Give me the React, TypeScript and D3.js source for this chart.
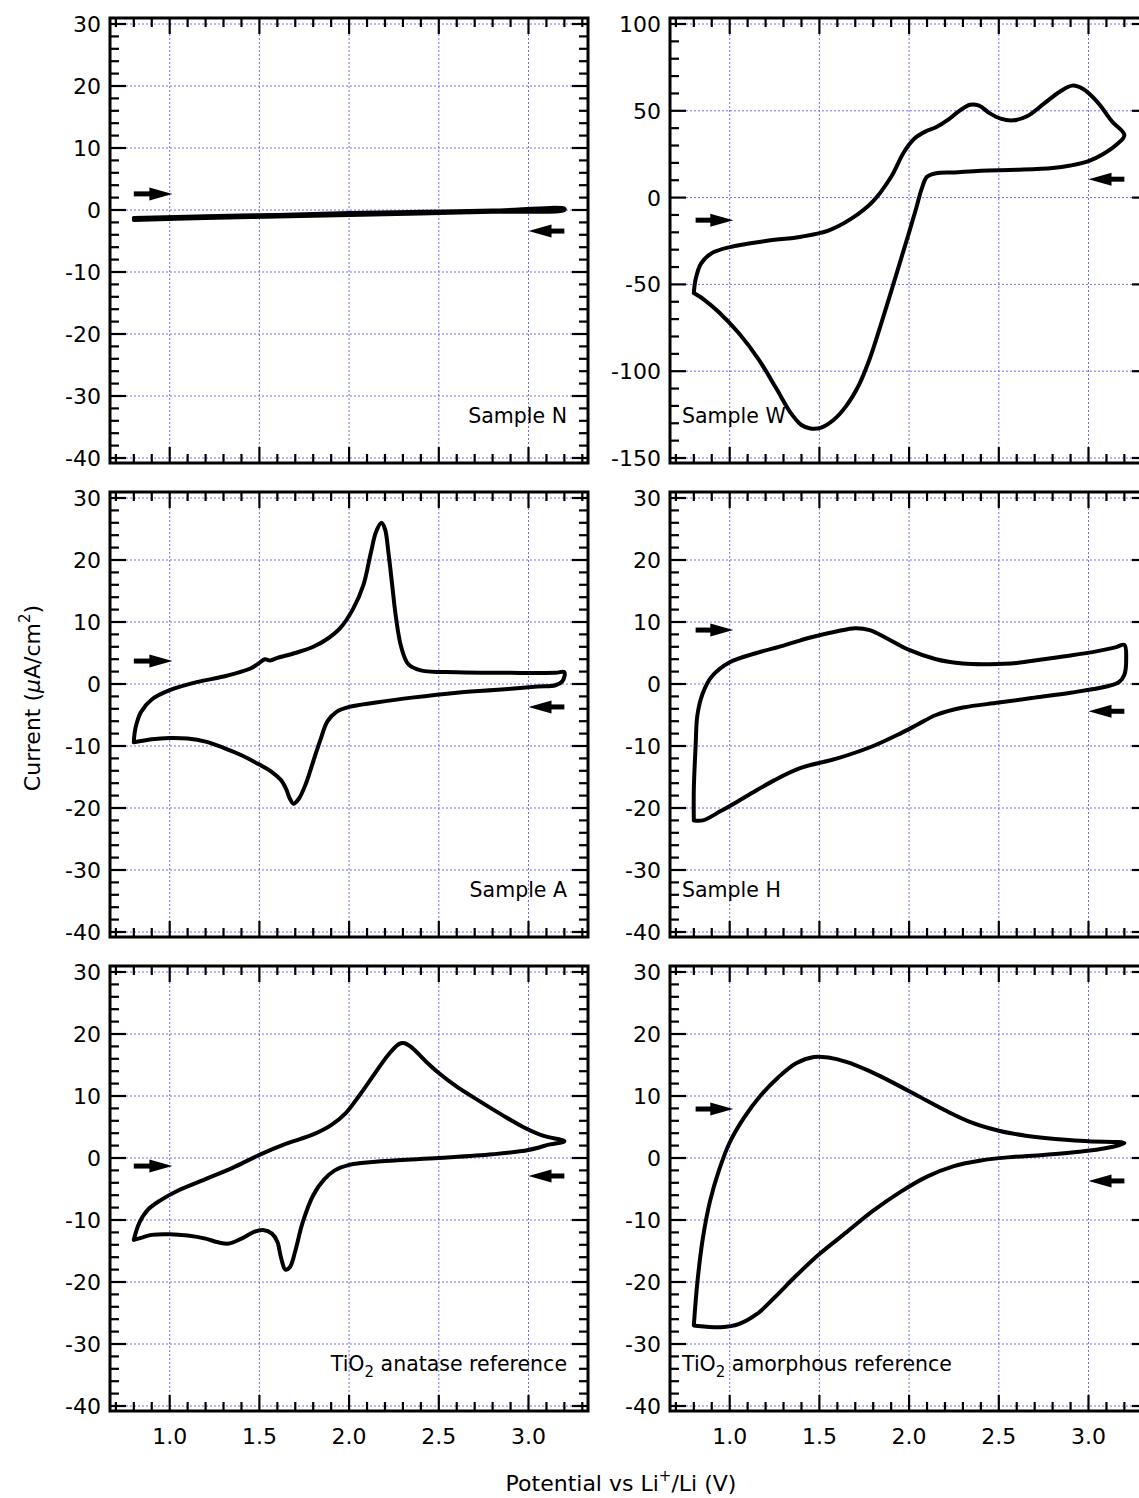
import React from "react";
import * as d3 from "d3";

// ---------- data ----------
const xMajorLabels = ["1.0", "1.5", "2.0", "2.5", "3.0"];
const yTicksSmall = [30, 20, 10, 0, -10, -20, -30, -40];
const yTicksW = [100, 50, 0, -50, -100, -150];

const sampleN: [number, number][] = [
  [0.8, -1.3], [1.2, -1.0], [1.6, -0.8], [2.0, -0.5], [2.4, -0.3], [2.8, -0.1], [3.2, 0.2],
  [3.2, 0.0], [2.8, -0.3], [2.4, -0.55], [2.0, -0.8], [1.6, -1.05], [1.2, -1.3], [0.8, -1.6],
];

const sampleW: [number, number][] = [
  [0.8, -55], [0.81, -47], [0.84, -38], [0.9, -32], [1.0, -28.5], [1.2, -25], [1.4, -22.5],
  [1.55, -19], [1.68, -12], [1.8, -2], [1.9, 12], [1.97, 26], [2.03, 34], [2.09, 38],
  [2.15, 40.5], [2.22, 45], [2.28, 50], [2.34, 53.5], [2.39, 53], [2.45, 48.5], [2.51, 45.5],
  [2.58, 44.5], [2.66, 47], [2.75, 54], [2.84, 61], [2.91, 64.5], [2.97, 62.5], [3.05, 55],
  [3.13, 44], [3.2, 36],
  [3.15, 30], [3.08, 25], [3.0, 21], [2.9, 18.5], [2.8, 17], [2.6, 16], [2.4, 15.5],
  [2.25, 14.5], [2.15, 14], [2.1, 12], [2.07, 5], [2.04, -6], [2.0, -20], [1.95, -37],
  [1.9, -54], [1.84, -74], [1.78, -93], [1.72, -108], [1.65, -120], [1.58, -128],
  [1.51, -132.5], [1.45, -133], [1.4, -131], [1.34, -124], [1.26, -110], [1.16, -93],
  [1.05, -78], [0.94, -66], [0.86, -59], [0.8, -55],
];

const sampleA: [number, number][] = [
  [0.8, -9.2], [0.81, -7], [0.84, -4.5], [0.9, -2.5], [1.0, -1], [1.15, 0.3], [1.3, 1.2],
  [1.45, 2.5], [1.5, 3.4], [1.53, 4], [1.56, 3.8], [1.6, 4.2], [1.7, 5], [1.8, 6],
  [1.88, 7.3], [1.95, 9], [2.02, 12], [2.08, 16], [2.12, 21], [2.15, 24.5], [2.18, 26],
  [2.2, 25], [2.22, 21], [2.24, 16], [2.26, 11], [2.29, 6], [2.33, 3.2], [2.4, 2.2],
  [2.6, 1.9], [2.9, 1.8], [3.15, 1.8], [3.2, 1.9],
  [3.19, 0.5], [3.15, -0.2], [3.05, -0.4], [2.85, -0.9], [2.6, -1.4], [2.35, -2.2],
  [2.15, -3], [2.0, -3.7], [1.93, -4.5], [1.88, -6], [1.84, -9], [1.8, -12.5], [1.76, -16],
  [1.72, -18.5], [1.69, -19.3], [1.67, -18.5], [1.65, -17], [1.62, -15.5], [1.57, -14.2],
  [1.5, -13], [1.4, -11.5], [1.3, -10.3], [1.2, -9.3], [1.1, -8.8], [1.0, -8.7],
  [0.9, -8.9], [0.8, -9.4],
];

const sampleH: [number, number][] = [
  [0.8, -22], [0.8, -17], [0.81, -10], [0.82, -5], [0.85, -1.5], [0.9, 1.2], [1.0, 3.5],
  [1.15, 5], [1.3, 6.2], [1.45, 7.5], [1.6, 8.5], [1.7, 9], [1.78, 8.7], [1.88, 7.3],
  [2.0, 5.5], [2.15, 4], [2.3, 3.3], [2.45, 3.2], [2.6, 3.4], [2.75, 4], [2.9, 4.6],
  [3.05, 5.3], [3.15, 5.9], [3.2, 6.3],
  [3.21, 4], [3.2, 1.5], [3.17, 0.3], [3.1, -0.4], [2.9, -1.4], [2.7, -2.2], [2.5, -3],
  [2.3, -3.8], [2.15, -5], [2.05, -6.5], [1.95, -8], [1.8, -10], [1.6, -12], [1.4, -13.5],
  [1.25, -15.5], [1.1, -18], [0.95, -20.5], [0.85, -22], [0.8, -22],
];

const anatase: [number, number][] = [
  [0.8, -13.2], [0.83, -10.5], [0.88, -8.3], [0.95, -6.8], [1.05, -5.2], [1.2, -3.4],
  [1.35, -1.6], [1.5, 0.5], [1.65, 2.3], [1.8, 3.8], [1.9, 5.3], [1.98, 7.2], [2.06, 10.2],
  [2.14, 13.5], [2.22, 16.7], [2.28, 18.4], [2.31, 18.5], [2.35, 17.8], [2.42, 15.8],
  [2.5, 13.7], [2.6, 11.5], [2.72, 9.3], [2.85, 7], [2.97, 5], [3.08, 3.6], [3.2, 2.7],
  [3.12, 2.2], [3.0, 1.3], [2.8, 0.6], [2.5, 0], [2.2, -0.5], [2.0, -1.1], [1.92, -2],
  [1.86, -3.5], [1.8, -6], [1.74, -10.5], [1.7, -15], [1.67, -17.6], [1.645, -18],
  [1.62, -16], [1.6, -13.5], [1.57, -12.2], [1.52, -11.6], [1.47, -11.9], [1.4, -13],
  [1.33, -13.8], [1.27, -13.6], [1.2, -13], [1.1, -12.5], [1.0, -12.3], [0.9, -12.4],
  [0.85, -12.8], [0.8, -13.2],
];

const amorphous: [number, number][] = [
  [0.8, -27], [0.82, -20], [0.85, -13], [0.89, -7], [0.94, -2], [1.0, 2.5], [1.08, 6.5],
  [1.17, 10], [1.27, 13], [1.37, 15.3], [1.47, 16.3], [1.55, 16.2], [1.65, 15.5],
  [1.78, 14], [1.92, 12], [2.05, 10], [2.2, 7.7], [2.35, 5.7], [2.5, 4.4], [2.65, 3.6],
  [2.8, 3.1], [3.0, 2.7], [3.2, 2.4],
  [3.1, 1.6], [2.95, 1], [2.75, 0.5], [2.55, 0.1], [2.4, -0.4], [2.25, -1.3], [2.1, -3],
  [1.95, -5.5], [1.8, -8.5], [1.65, -12], [1.5, -15.5], [1.37, -19], [1.25, -22.5],
  [1.15, -25.2], [1.05, -26.8], [0.95, -27.3], [0.87, -27.2], [0.8, -27],
];

// arrows: [xStart, xEnd, y]  (direction from start to end)
const arrowsN: [number, number, number][] = [[0.8, 1.015, 2.6], [3.2, 3.0, -3.4]];
const arrowsW: [number, number, number][] = [[0.81, 1.02, -13], [3.2, 3.0, 10.6]];
const arrowsA: [number, number, number][] = [[0.8, 1.015, 3.7], [3.2, 3.0, -3.7]];
const arrowsH: [number, number, number][] = [[0.81, 1.02, 8.7], [3.2, 3.0, -4.4]];
const arrowsAn: [number, number, number][] = [[0.8, 1.015, -1.3], [3.2, 3.0, -2.9]];
const arrowsAm: [number, number, number][] = [[0.81, 1.02, 7.9], [3.2, 3.0, -3.7]];

// ---------- layout ----------
const W = 1139;
const H = 1498;
const FONT = "'DejaVu Sans', 'Liberation Sans', sans-serif";
const colX = [110, 670];
const rowY = [18, 492, 966];
const PW = 478;
const PH = 445;
const GRID = "#6f6fff";

type PanelProps = {
  col: number;
  row: number;
  data: [number, number][];
  yDomain: [number, number];
  yMinorStep: number;
  yMajorStep: number;
  yLabels: number[];
  arrows: [number, number, number][];
  label: React.ReactNode;
  labelRight: boolean;
  showX: boolean;
};

function Panel(p: PanelProps) {
  const x0 = colX[p.col];
  const y0 = rowY[p.row];
  const x = d3.scaleLinear().domain([1.0, 3.0]).range([x0 + 59.7, x0 + 59.7 + 2 * 179.4]);
  const y = d3.scaleLinear().domain(p.yDomain).range([y0 + 440, y0 + 6]);
  const line = d3
    .line<[number, number]>()
    .x((d) => x(d[0]))
    .y((d) => y(d[1]))
    .curve(d3.curveCatmullRom.alpha(0.5));
  const xMinor = d3.range(7, 34).map((i) => i / 10);
  const yMinor = d3.range(p.yDomain[0], p.yDomain[1] + 0.001, p.yMinorStep);
  const isMajX = (v: number) => Math.abs(Math.round(v * 10) % 5) === 0;
  const isMajY = (v: number) => Math.abs(Math.round(v) % p.yMajorStep) === 0;
  const right = x0 + PW;
  const bottom = y0 + PH;
  const majL = 16;
  const minL = 9;
  const clipId = `clip-${p.col}-${p.row}`;
  return (
    <g>
      <defs>
        <clipPath id={clipId}>
          <rect x={x0} y={y0} width={PW} height={PH} />
        </clipPath>
      </defs>
      {/* grid */}
      <g stroke={GRID} strokeWidth={1} strokeDasharray="2,2" fill="none">
        {xMinor.filter(isMajX).map((v) => (
          <line key={"gx" + v} x1={x(v)} x2={x(v)} y1={y0} y2={bottom} />
        ))}
        {yMinor.filter(isMajY).map((v) => (
          <line key={"gy" + v} x1={x0} x2={right} y1={y(v)} y2={y(v)} />
        ))}
      </g>
      {/* ticks */}
      <g stroke="#000" strokeWidth={2.2}>
        {xMinor.map((v) => {
          const L = isMajX(v) ? majL : minL;
          return (
            <g key={"tx" + v}>
              <line x1={x(v)} x2={x(v)} y1={bottom} y2={bottom - L} />
              <line x1={x(v)} x2={x(v)} y1={y0} y2={y0 + L} />
            </g>
          );
        })}
        {yMinor.map((v) => {
          const L = isMajY(v) ? majL : minL;
          return (
            <g key={"ty" + v}>
              <line x1={x0} x2={x0 + L} y1={y(v)} y2={y(v)} />
              <line x1={right} x2={right - L} y1={y(v)} y2={y(v)} />
            </g>
          );
        })}
      </g>
      {/* frame */}
      <rect x={x0} y={y0} width={PW} height={PH} fill="none" stroke="#000" strokeWidth={3} />
      {/* curve */}
      <path
        d={line(p.data) || ""}
        fill="none"
        stroke="#000"
        strokeWidth={4}
        strokeLinejoin="round"
        strokeLinecap="round"
        clipPath={`url(#${clipId})`}
      />
      {/* arrows */}
      {p.arrows.map((a, i) => {
        const xs = x(a[0]);
        const xe = x(a[1]);
        const yy = y(a[2]);
        const dir = xe > xs ? 1 : -1;
        const headLen = 23;
        const headH = 6.5;
        const hb = xe - dir * headLen;
        return (
          <g key={"ar" + i}>
            <line x1={xs} x2={hb + dir * 2} y1={yy} y2={yy} stroke="#000" strokeWidth={5} />
            <path d={`M${xe},${yy} L${hb},${yy - headH} L${hb},${yy + headH} Z`} fill="#000" />
          </g>
        );
      })}
      {/* y labels */}
      <g fontFamily={FONT} fontSize={22} fill="#000" textAnchor="end">
        {p.yLabels.map((v) => (
          <text key={"yl" + v} x={x0 - 9} y={y(v)} dy="0.36em">
            {String(v)}
          </text>
        ))}
      </g>
      {p.showX && (
        <g fontFamily={FONT} fontSize={22} fill="#000" textAnchor="middle">
          {xMajorLabels.map((s) => (
            <text key={"xl" + s} x={x(parseFloat(s))} y={bottom + 33}>
              {s}
            </text>
          ))}
        </g>
      )}
      <text
        x={p.labelRight ? x0 + 457 : x0 + 12}
        y={y0 + 405}
        fontFamily={FONT}
        fontSize={20.5}
        textAnchor={p.labelRight ? "end" : "start"}
        fill="#000"
      >
        {p.label}
      </text>
    </g>
  );
}

export default function App() {
  const small: [number, number] = [-40, 30];
  return (
    <svg
      width={W}
      height={H}
      viewBox={`0 0 ${W} ${H}`}
      style={{ position: "absolute", left: 0, top: 0, background: "#fff" }}
    >
      <rect width={W} height={H} fill="#fff" />
      <Panel col={0} row={0} data={sampleN} yDomain={small} yMinorStep={2} yMajorStep={10}
        yLabels={yTicksSmall} arrows={arrowsN} label="Sample N" labelRight={true} showX={false} />
      <Panel col={1} row={0} data={sampleW} yDomain={[-150, 100]} yMinorStep={10} yMajorStep={50}
        yLabels={yTicksW} arrows={arrowsW} label="Sample W" labelRight={false} showX={false} />
      <Panel col={0} row={1} data={sampleA} yDomain={small} yMinorStep={2} yMajorStep={10}
        yLabels={yTicksSmall} arrows={arrowsA} label="Sample A" labelRight={true} showX={false} />
      <Panel col={1} row={1} data={sampleH} yDomain={small} yMinorStep={2} yMajorStep={10}
        yLabels={yTicksSmall} arrows={arrowsH} label="Sample H" labelRight={false} showX={false} />
      <Panel col={0} row={2} data={anatase} yDomain={small} yMinorStep={2} yMajorStep={10}
        yLabels={yTicksSmall} arrows={arrowsAn}
        label={<><tspan>TiO</tspan><tspan dy={6} fontSize={15}>2</tspan><tspan dy={-6}> anatase reference</tspan></>}
        labelRight={true} showX={true} />
      <Panel col={1} row={2} data={amorphous} yDomain={small} yMinorStep={2} yMajorStep={10}
        yLabels={yTicksSmall} arrows={arrowsAm}
        label={<><tspan>TiO</tspan><tspan dy={6} fontSize={15}>2</tspan><tspan dy={-6}> amorphous reference</tspan></>}
        labelRight={false} showX={true} />
      <text
        transform="translate(40,698) rotate(-90)"
        fontFamily={FONT}
        fontSize={22}
        textAnchor="middle"
        fill="#000"
      >
        <tspan>Current (</tspan>
        <tspan fontStyle="italic">μ</tspan>
        <tspan>A/cm</tspan>
        <tspan dy={-10} fontSize={15}>2</tspan>
        <tspan dy={10}>)</tspan>
      </text>
      <text x={621} y={1491} fontFamily={FONT} fontSize={22} textAnchor="middle" fill="#000">
        <tspan>Potential vs Li</tspan>
        <tspan dy={-10} fontSize={15}>+</tspan>
        <tspan dy={10}>/Li (V)</tspan>
      </text>
    </svg>
  );
}
